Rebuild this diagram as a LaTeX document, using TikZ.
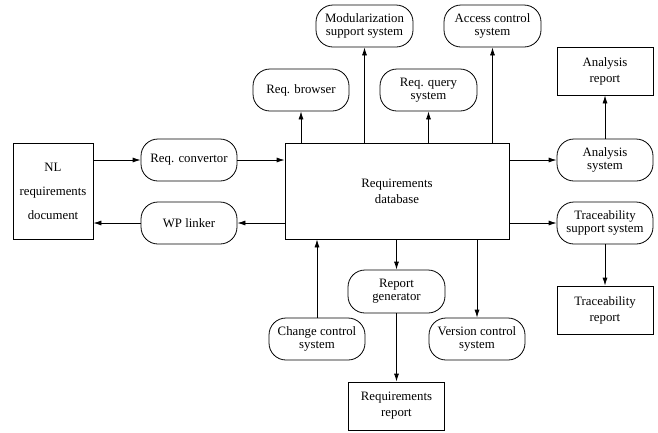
\documentclass[tikz,border=0pt]{standalone}
\usepackage{fontspec}
\setmainfont{Liberation Serif}
\usetikzlibrary{arrows.meta}

\begin{document}
\begin{tikzpicture}[x=1pt,y=-1pt,
  every node/.style={font=\fontsize{12.8}{12.8}\selectfont, align=center, inner sep=1pt},
  procbox/.style={draw, line width=0.8pt, rounded corners=17pt, minimum width=96pt, minimum height=42pt},
  docbox/.style={draw, line width=0.8pt, minimum width=96pt, minimum height=48pt},
  flow/.style={line width=0.8pt, -{Latex[length=8pt,width=5pt]}}
]
\useasboundingbox (0,0) rectangle (658,432);

% stores and documents
\node[draw, line width=0.8pt, minimum width=80pt, minimum height=96pt] (nl) at (53,191)
  {NL\\[11.2pt]requirements\\[11.2pt]document};
\node[draw, line width=0.8pt, minimum width=224pt, minimum height=96pt] (db) at (397,191)
  {Requirements\\[3.2pt]database};
\node[docbox] (arep) at (605,71) {Analysis\\[3.2pt]report};
\node[docbox] (trep) at (605,310) {Traceability\\[3.2pt]report};
\node[docbox] (rrep) at (396.5,406) {Requirements\\[3.2pt]report};

% processing components
\node[procbox] (conv)   at (189,160)   {Req. convertor};
\node[procbox] (wp)     at (189,223)   {WP linker};
\node[procbox] (browse) at (301,90)    {Req. browser};
\node[procbox, minimum width=97pt] (modul)  at (364.5,26) {Modularization\\support system};
\node[procbox, minimum width=97pt] (query)  at (428.5,90) {Req. query\\system};
\node[procbox, minimum width=97pt] (access) at (492.5,26) {Access control\\system};
\node[procbox] (anal)   at (605,160)   {Analysis\\system};
\node[procbox] (trace)  at (605,223)   {Traceability\\support system};
\node[procbox, minimum width=97pt, minimum height=43pt] (repgen) at (396.5,291.5) {Report\\generator};
\node[procbox] (vcs)    at (477,339)   {Version control\\system};
\node[procbox] (ccs)    at (317,339)   {Change control\\system};

% data flows
\draw[flow] (nl.east |- conv) -- (conv.west);
\draw[flow] (conv.east) -- (db.west |- conv);
\draw[flow] (db.west |- wp) -- (wp.east);
\draw[flow] (wp.west) -- (nl.east |- wp);

\draw[flow] (db.north -| browse) -- (browse.south);
\draw[flow] (db.north -| modul) -- (modul.south);
\draw[flow] (db.north -| query) -- (query.south);
\draw[flow] (db.north -| access) -- (access.south);

\draw[flow] (db.east |- anal) -- (anal.west);
\draw[flow] (anal.north) -- (arep.south);
\draw[flow] (db.east |- trace) -- (trace.west);
\draw[flow] (trace.south) -- (trep.north);

\draw[flow] (db.south -| repgen) -- (repgen.north);
\draw[flow] (repgen.south) -- (rrep.north);
\draw[flow] (db.south -| vcs) -- (vcs.north);
\draw[flow] (ccs.north) -- (db.south -| ccs);
\end{tikzpicture}
\end{document}
